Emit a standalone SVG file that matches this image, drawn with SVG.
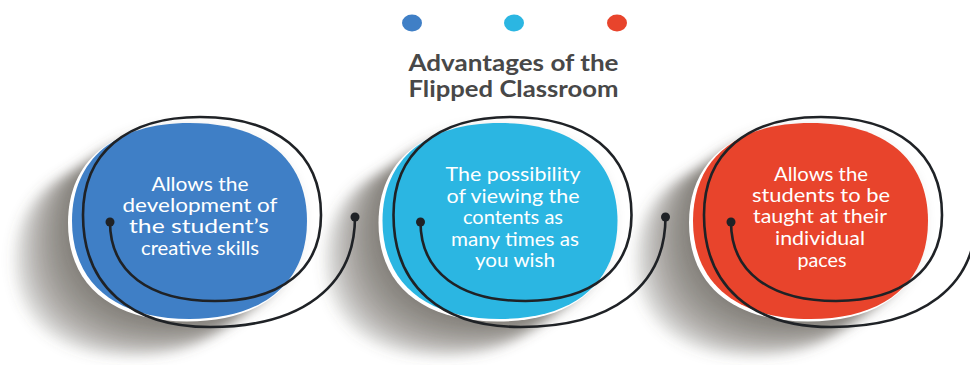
<svg xmlns="http://www.w3.org/2000/svg" xmlns:xlink="http://www.w3.org/1999/xlink" width="970" height="365" viewBox="0 0 970 365">
  <style>
    .title { font-family: Lato, "Open Sans", "Liberation Sans", sans-serif; font-weight: 700; font-size: 22px; fill: #484848; text-anchor: middle; }
    .label { font-family: Lato, "Open Sans", "Liberation Sans", sans-serif; font-size: 19px; fill: #ffffff; text-anchor: middle; }
    .spiral { fill: none; stroke: #1f2226; stroke-width: 2.6; stroke-linecap: round; }
    .dot { fill: #1f2226; }
    .shadowcopy { fill: #5f5451; fill-opacity: 0.15; }
  </style>
  <defs>
    <filter id="blur" x="-50%" y="-50%" width="200%" height="200%">
      <feGaussianBlur stdDeviation="6"/>
    </filter>
    <path id="disc" d="M72,221 C72,159.3 115.5,123 189.5,123 C263.5,123 307,159.3 307,221 C307,282.7 263.5,319 189.5,319 C115.5,319 72,282.7 72,221 Z"/>
    <path id="rim" d="M68,223 C68,161 112,124.5 187,124.5 C262,124.5 306,161 306,223 C306,285 262,321.5 187,321.5 C112,321.5 68,285 68,223 Z" fill="#ffffff"/>
    <g id="shadow" filter="url(#blur)">
      <use xlink:href="#disc" class="shadowcopy" transform="translate(-4,3)"/>
      <use xlink:href="#disc" class="shadowcopy" transform="translate(-10,7)"/>
      <use xlink:href="#disc" class="shadowcopy" transform="translate(-17,12)"/>
      <use xlink:href="#disc" class="shadowcopy" transform="translate(-24,17)"/>
      <use xlink:href="#disc" class="shadowcopy" transform="translate(-31,22)"/>
      <use xlink:href="#disc" class="shadowcopy" transform="translate(-38,27)"/>
      <use xlink:href="#disc" class="shadowcopy" transform="translate(-45,31)"/>
      <use xlink:href="#disc" class="shadowcopy" transform="translate(-52,35)"/>
      <use xlink:href="#disc" class="shadowcopy" transform="translate(-59,39)"/>
    </g>
    <path id="spiralPath" d="M110,222 C110,271.8 148.8,301 215,301 C281.8,301 321,269.2 321,215 C321,153.3 276.2,117 200,117 C126.3,117 83,153.3 83,215 C83,285.6 130,327 210,327 C301.4,327 355,286.3 355,217"/>
  </defs>

  <rect width="970" height="365" fill="#ffffff"/>

  <g id="header">
    <ellipse cx="412" cy="23" rx="10" ry="8.5" fill="#3f7fc6"/>
    <ellipse cx="514" cy="23" rx="10" ry="8.5" fill="#2bb6e2"/>
    <ellipse cx="617" cy="23" rx="10" ry="8.5" fill="#e8442c"/>
    <text class="title" x="513.5" y="71" textLength="210" lengthAdjust="spacingAndGlyphs">Advantages of the</text>
    <text class="title" x="513.5" y="97" textLength="210" lengthAdjust="spacingAndGlyphs">Flipped Classroom</text>
  </g>

  <g id="node1">
    <use xlink:href="#shadow"/>
    <use xlink:href="#rim"/>
    <use xlink:href="#disc" fill="#3f7fc6"/>
    <text class="label" x="200" y="191" textLength="97" lengthAdjust="spacingAndGlyphs">Allows the</text>
    <text class="label" x="200" y="212" textLength="155" lengthAdjust="spacingAndGlyphs">development of</text>
    <text class="label" x="199" y="233" textLength="140" lengthAdjust="spacingAndGlyphs">the student’s</text>
    <text class="label" x="200" y="255" textLength="118" lengthAdjust="spacingAndGlyphs">creative skills</text>
  </g>

  <g id="node2">
    <use xlink:href="#shadow" transform="translate(310.5,0)"/>
    <use xlink:href="#rim" transform="translate(310.5,0)"/>
    <use xlink:href="#disc" transform="translate(310.5,0)" fill="#2bb6e2"/>
    <text class="label" x="513" y="181" textLength="135" lengthAdjust="spacingAndGlyphs">The possibility</text>
    <text class="label" x="513" y="203" textLength="133" lengthAdjust="spacingAndGlyphs">of viewing the</text>
    <text class="label" x="513" y="224" textLength="100" lengthAdjust="spacingAndGlyphs">contents as</text>
    <text class="label" x="515" y="246" textLength="128" lengthAdjust="spacingAndGlyphs">many times as</text>
    <text class="label" x="515" y="267" textLength="80" lengthAdjust="spacingAndGlyphs">you wish</text>
  </g>

  <g id="node3">
    <use xlink:href="#shadow" transform="translate(621,0)"/>
    <use xlink:href="#rim" transform="translate(621,0)"/>
    <use xlink:href="#disc" transform="translate(621,0)" fill="#e8442c"/>
    <text class="label" x="821" y="181" textLength="94" lengthAdjust="spacingAndGlyphs">Allows the</text>
    <text class="label" x="821" y="202" textLength="138" lengthAdjust="spacingAndGlyphs">students to be</text>
    <text class="label" x="820" y="223" textLength="134" lengthAdjust="spacingAndGlyphs">taught at their</text>
    <text class="label" x="820" y="245" textLength="90" lengthAdjust="spacingAndGlyphs">individual</text>
    <text class="label" x="822" y="267" textLength="49" lengthAdjust="spacingAndGlyphs">paces</text>
  </g>

  <g id="connectors">
    <g id="spiral1">
      <use xlink:href="#spiralPath" class="spiral"/>
      <circle class="dot" cx="110" cy="222" r="4.5"/>
      <circle class="dot" cx="355" cy="217" r="4.5"/>
    </g>
    <g id="spiral2" transform="translate(310.5,0)">
      <use xlink:href="#spiralPath" class="spiral"/>
      <circle class="dot" cx="110" cy="222" r="4.5"/>
      <circle class="dot" cx="355" cy="217" r="4.5"/>
    </g>
    <g id="spiral3" transform="translate(621,0)">
      <use xlink:href="#spiralPath" class="spiral"/>
      <circle class="dot" cx="110" cy="222" r="4.5"/>
      <circle class="dot" cx="355" cy="217" r="4.5"/>
    </g>
  </g>
</svg>
